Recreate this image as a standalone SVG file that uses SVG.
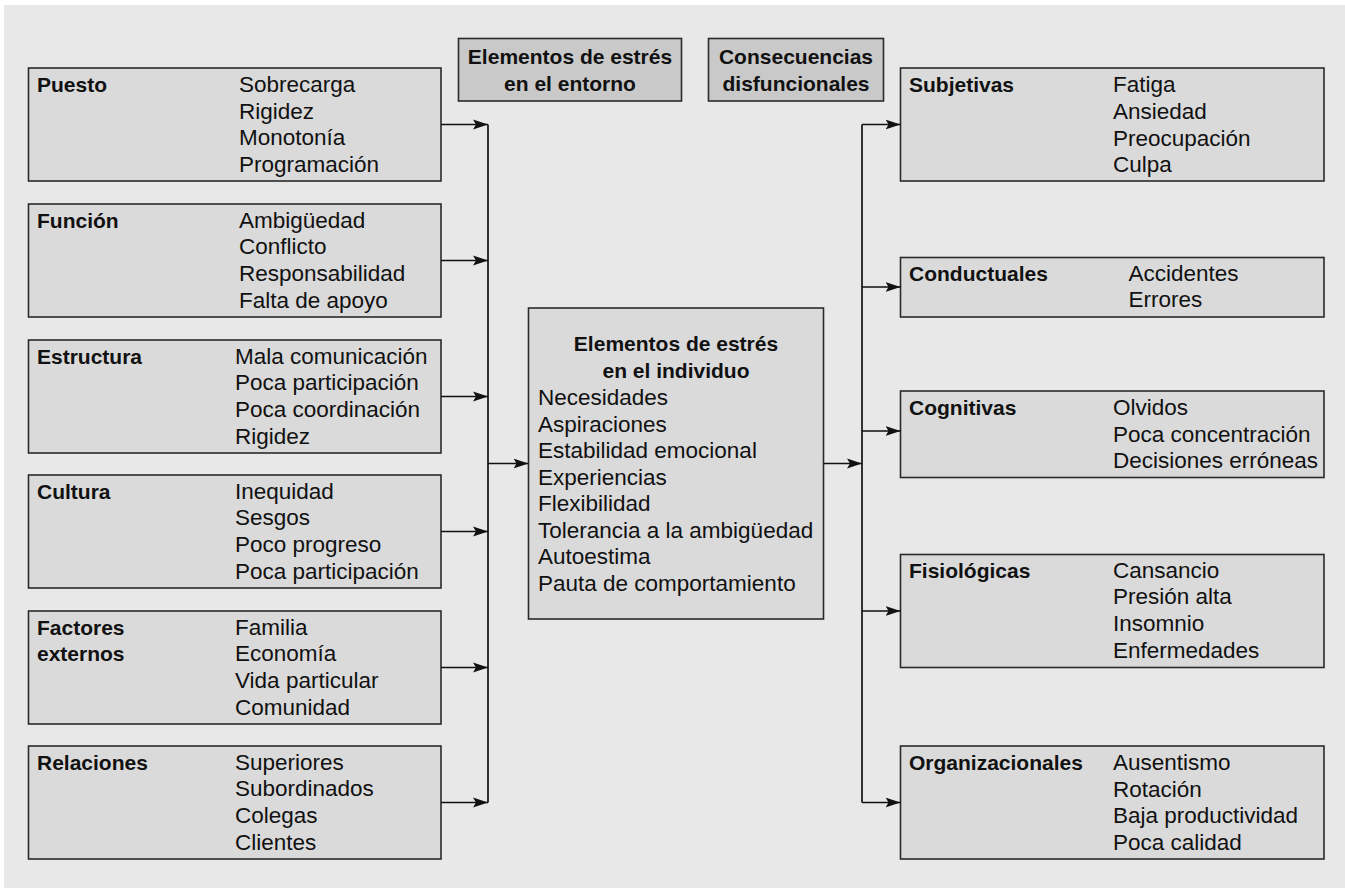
<svg xmlns="http://www.w3.org/2000/svg" width="1345" height="888" viewBox="0 0 1345 888">
<defs>
<style>
.bg{fill:#e8e8e8}
.box{fill:#dadada;stroke:#2a2a2a;stroke-width:1.6}
.hdr{fill:#c9c9c9;stroke:#2a2a2a;stroke-width:1.6}
text{font-family:"Liberation Sans",Arial,sans-serif;fill:#111}
.b{font-weight:bold;font-size:21px}
.r{font-size:22.5px}
.c{text-anchor:middle}
.ln{fill:none;stroke:#111;stroke-width:1.7}
</style>
<marker id="ah" viewBox="0 0 15 11" refX="15" refY="5.5" markerWidth="15" markerHeight="11" markerUnits="userSpaceOnUse" orient="auto">
<path d="M0,0.5 L15,5.5 L0,10.5 L3,5.5 Z" fill="#111"/>
</marker>
</defs>
<rect class="bg" x="4" y="5" width="1341" height="883"/>

<g id="hdr-entorno">
<rect class="hdr" x="458.5" y="38.5" width="223" height="62.5"/>
<text class="b c" x="570" y="63.5">Elementos de estrés</text>
<text class="b c" x="570" y="90.5">en el entorno</text>
</g>
<g id="hdr-consecuencias">
<rect class="hdr" x="708.5" y="38.5" width="175" height="62.5"/>
<text class="b c" x="796" y="63.5">Consecuencias</text>
<text class="b c" x="796" y="90.5">disfuncionales</text>
</g>

<g id="puesto">
<rect class="box" x="28.5" y="68" width="412.5" height="113"/>
<text class="b" x="37" y="91.7">Puesto</text>
<text class="r" x="239" y="91.7">Sobrecarga</text>
<text class="r" x="239" y="118.5">Rigidez</text>
<text class="r" x="239" y="145.3">Monotonía</text>
<text class="r" x="239" y="172">Programación</text>
</g>
<g id="funcion">
<rect class="box" x="28.5" y="204" width="412.5" height="113"/>
<text class="b" x="37" y="227.5">Función</text>
<text class="r" x="239" y="227.5">Ambigüedad</text>
<text class="r" x="239" y="254.3">Conflicto</text>
<text class="r" x="239" y="281">Responsabilidad</text>
<text class="r" x="239" y="307.8">Falta de apoyo</text>
</g>
<g id="estructura">
<rect class="box" x="28.5" y="340" width="412.5" height="113"/>
<text class="b" x="37" y="363.5">Estructura</text>
<text class="r" x="235" y="363.5">Mala comunicación</text>
<text class="r" x="235" y="390.3">Poca participación</text>
<text class="r" x="235" y="417">Poca coordinación</text>
<text class="r" x="235" y="443.8">Rigidez</text>
</g>
<g id="cultura">
<rect class="box" x="28.5" y="475" width="412.5" height="113"/>
<text class="b" x="37" y="498.5">Cultura</text>
<text class="r" x="235" y="498.5">Inequidad</text>
<text class="r" x="235" y="525.3">Sesgos</text>
<text class="r" x="235" y="552">Poco progreso</text>
<text class="r" x="235" y="578.8">Poca participación</text>
</g>
<g id="factores">
<rect class="box" x="28.5" y="611" width="412.5" height="113"/>
<text class="b" x="37" y="634.5">Factores</text>
<text class="b" x="37" y="661.3">externos</text>
<text class="r" x="235" y="634.5">Familia</text>
<text class="r" x="235" y="661.3">Economía</text>
<text class="r" x="235" y="688">Vida particular</text>
<text class="r" x="235" y="714.8">Comunidad</text>
</g>
<g id="relaciones">
<rect class="box" x="28.5" y="746" width="412.5" height="113"/>
<text class="b" x="37" y="769.5">Relaciones</text>
<text class="r" x="235" y="769.5">Superiores</text>
<text class="r" x="235" y="796.3">Subordinados</text>
<text class="r" x="235" y="823">Colegas</text>
<text class="r" x="235" y="849.8">Clientes</text>
</g>

<g id="individuo">
<rect class="box" x="528.5" y="308" width="295" height="311"/>
<text class="b c" x="676" y="350.7">Elementos de estrés</text>
<text class="b c" x="676" y="377.7">en el individuo</text>
<text class="r" x="538" y="405">Necesidades</text>
<text class="r" x="538" y="431.5">Aspiraciones</text>
<text class="r" x="538" y="458">Estabilidad emocional</text>
<text class="r" x="538" y="484.5">Experiencias</text>
<text class="r" x="538" y="511">Flexibilidad</text>
<text class="r" x="538" y="537.7">Tolerancia a la ambigüedad</text>
<text class="r" x="538" y="564.3">Autoestima</text>
<text class="r" x="538" y="591">Pauta de comportamiento</text>
</g>

<g id="subjetivas">
<rect class="box" x="900.5" y="68" width="423.5" height="113"/>
<text class="b" x="909" y="91.7">Subjetivas</text>
<text class="r" x="1113" y="91.7">Fatiga</text>
<text class="r" x="1113" y="118.7">Ansiedad</text>
<text class="r" x="1113" y="145.5">Preocupación</text>
<text class="r" x="1113" y="172">Culpa</text>
</g>
<g id="conductuales">
<rect class="box" x="900.5" y="257.5" width="423.5" height="59.5"/>
<text class="b" x="909" y="280.7">Conductuales</text>
<text class="r" x="1128.5" y="280.7">Accidentes</text>
<text class="r" x="1128.5" y="307.3">Errores</text>
</g>
<g id="cognitivas">
<rect class="box" x="900.5" y="391" width="423.5" height="86.5"/>
<text class="b" x="909" y="415">Cognitivas</text>
<text class="r" x="1113" y="415">Olvidos</text>
<text class="r" x="1113" y="441.7">Poca concentración</text>
<text class="r" x="1113" y="467.7">Decisiones erróneas</text>
</g>
<g id="fisiologicas">
<rect class="box" x="900.5" y="554.5" width="423.5" height="113"/>
<text class="b" x="909" y="577.5">Fisiológicas</text>
<text class="r" x="1113" y="577.5">Cansancio</text>
<text class="r" x="1113" y="604.3">Presión alta</text>
<text class="r" x="1113" y="631">Insomnio</text>
<text class="r" x="1113" y="657.7">Enfermedades</text>
</g>
<g id="organizacionales">
<rect class="box" x="900.5" y="746" width="423.5" height="113"/>
<text class="b" x="909" y="770">Organizacionales</text>
<text class="r" x="1113" y="770">Ausentismo</text>
<text class="r" x="1113" y="796.7">Rotación</text>
<text class="r" x="1113" y="823.3">Baja productividad</text>
<text class="r" x="1113" y="849.5">Poca calidad</text>
</g>

<g id="connectors">
<line class="ln" x1="488" y1="124.5" x2="488" y2="802.5"/>
<line class="ln" x1="441" y1="124.5" x2="488" y2="124.5" marker-end="url(#ah)"/>
<line class="ln" x1="441" y1="260.5" x2="488" y2="260.5" marker-end="url(#ah)"/>
<line class="ln" x1="441" y1="396.5" x2="488" y2="396.5" marker-end="url(#ah)"/>
<line class="ln" x1="441" y1="531.5" x2="488" y2="531.5" marker-end="url(#ah)"/>
<line class="ln" x1="441" y1="667.5" x2="488" y2="667.5" marker-end="url(#ah)"/>
<line class="ln" x1="441" y1="802.5" x2="488" y2="802.5" marker-end="url(#ah)"/>
<line class="ln" x1="488" y1="463.5" x2="528.5" y2="463.5" marker-end="url(#ah)"/>
<line class="ln" x1="823.5" y1="463.5" x2="862" y2="463.5" marker-end="url(#ah)"/>
<line class="ln" x1="862" y1="124.5" x2="862" y2="802.5"/>
<line class="ln" x1="862" y1="124.5" x2="900.5" y2="124.5" marker-end="url(#ah)"/>
<line class="ln" x1="862" y1="287" x2="900.5" y2="287" marker-end="url(#ah)"/>
<line class="ln" x1="862" y1="431" x2="900.5" y2="431" marker-end="url(#ah)"/>
<line class="ln" x1="862" y1="611" x2="900.5" y2="611" marker-end="url(#ah)"/>
<line class="ln" x1="862" y1="802.5" x2="900.5" y2="802.5" marker-end="url(#ah)"/>
</g>
</svg>
